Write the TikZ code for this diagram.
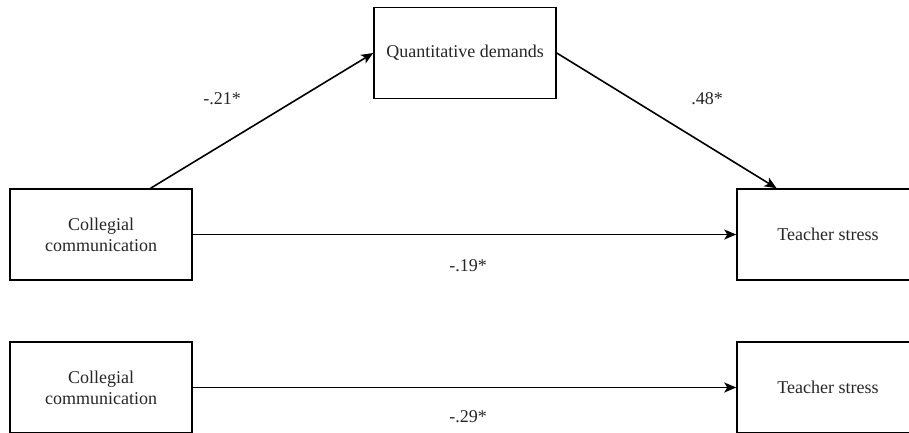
\documentclass[tikz,border=0pt]{standalone}
\usepackage{fontspec}
\setmainfont{Liberation Serif}
\usetikzlibrary{arrows.meta}
\begin{document}
\begin{tikzpicture}[x=1pt,y=-1pt,
  box/.style={draw=black, line width=1.5pt, minimum width=182pt, minimum height=91pt, inner sep=0pt, align=center, font=\fontsize{18}{21}\selectfont, text=black!85},
  conn/.style={line width=1.6pt, -{Stealth[length=12pt,width=10pt,inset=3pt]}},
  lbl/.style={font=\fontsize{18}{21}\selectfont, text=black!85, inner sep=0pt}]
\useasboundingbox (0,0) rectangle (909,432);
\clip (0,0) rectangle (909,432);
\node[box] (q) at (465,53) {Quantitative demands};
\node[box] (c1) at (101,234.5) {Collegial\\communication};
\node[box] (t1) at (828,234.5) {Teacher stress};
\node[box] (c2) at (101,387.5) {Collegial\\communication};
\node[box] (t2) at (828,387.5) {Teacher stress};
\draw[conn] (c1.43) -- (q.west);
\draw[conn] (q.east) -- (t1.138);
\draw[conn] (c1.east) -- (t1.west);
\draw[conn] (c2.east) -- (t2.west);
\node[lbl] (l1) at (222,99) {-.21*};
\node[lbl] (l2) at (707,99) {.48*};
\node[lbl] (l3) at (468,266) {-.19*};
\node[lbl] (l4) at (468,417) {-.29*};
\end{tikzpicture}
\end{document}
